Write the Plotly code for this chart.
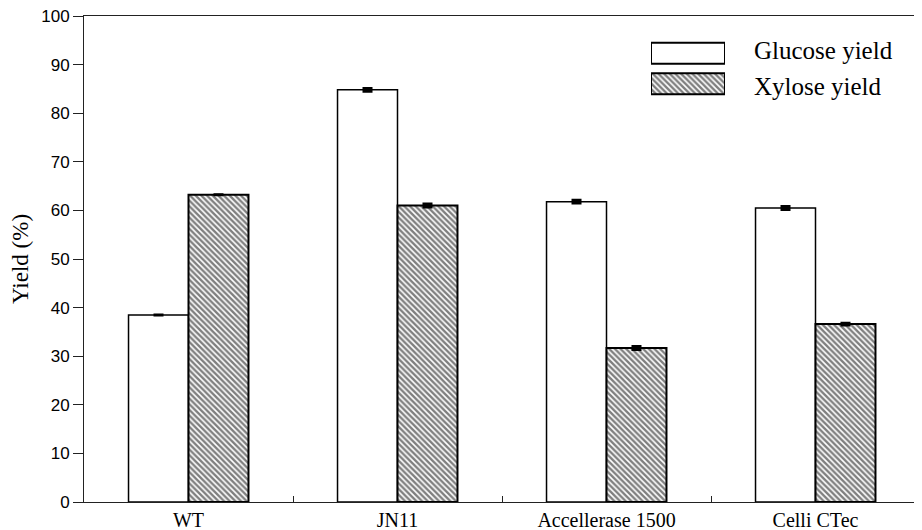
import plotly.graph_objects as go

categories = ["WT", "JN11", "Accellerase 1500", "Celli CTec"]
glucose_yield = [38.5, 84.8, 61.8, 60.5]
xylose_yield = [63.2, 61.0, 31.7, 36.6]
glucose_err = [None, 0.3, 0.3, 0.3]
xylose_err = [None, 0.3, 0.3, 0.2]
series_names = ["Glucose yield", "Xylose yield"]
yticks = list(range(0, 101, 10))

# the page body has an 8px margin; work in screen pixels and shift
OFF = 8
W, H = 922 - OFF, 530 - OFF
serif = "Liberation Serif, Times New Roman, serif"
sans = "Liberation Sans, Arial, sans-serif"

# plot area in screen pixels
px0, px1 = 84, 920
py0, py1 = 16, 502
PW, PH = px1 - px0, py1 - py0


def fx(px):
    return (px - px0) / PW


def fy(py):
    return (py1 - py) / PH


fig = go.Figure()
fig.add_trace(go.Bar(
    x=categories, y=glucose_yield, name=series_names[0],
    marker=dict(color="white", line=dict(color="black", width=1.5)),
    error_y=dict(type="data", array=glucose_err, color="black", thickness=3, width=5),
    showlegend=False,
))
fig.add_trace(go.Bar(
    x=categories, y=xylose_yield, name=series_names[1],
    marker=dict(color="white", line=dict(color="black", width=2),
                pattern=dict(shape="\\", fgcolor="black", bgcolor="white", size=4, solidity=0.6)),
    error_y=dict(type="data", array=xylose_err, color="black", thickness=3, width=5),
    showlegend=False,
))

# legend swatches (drawn on a small helper subplot)
fig.add_trace(go.Bar(
    x=[1, 1], y=[1, 0], orientation="h", width=0.69,
    marker=dict(color="white", line=dict(color="black", width=2),
                pattern=dict(shape=["", "\\"], fgcolor="black", bgcolor="white", size=4, solidity=0.6)),
    xaxis="x2", yaxis="y2", showlegend=False, hoverinfo="skip",
))

fig.update_layout(
    width=W, height=H,
    margin=dict(l=px0 - OFF, r=(922 - px1), t=py0 - OFF, b=(530 - py1), autoexpand=False, pad=0),
    paper_bgcolor="white", plot_bgcolor="white",
    barmode="group", bargap=0.426, bargroupgap=0,
    showlegend=False,
    xaxis=dict(
        showline=True, linecolor="#222", linewidth=1, mirror=True,
        ticks="inside", tickson="boundaries", ticklen=6, tickcolor="#222",
        tickfont=dict(family=serif, size=20, color="black"),
        showgrid=False, zeroline=False, automargin=False, ticklabeloverflow="allow",
    ),
    yaxis=dict(
        range=[0, 100], tickvals=yticks, ticks="outside", ticklen=10, tickcolor="#222",
        showline=True, linecolor="#222", linewidth=1, mirror=True,
        tickfont=dict(family=sans, size=17, color="black"),
        showgrid=False, zeroline=False, automargin=False, ticklabeloverflow="allow",
        title=dict(text="Yield (%)", font=dict(family=serif, size=23, color="black"), standoff=14),
    ),
    xaxis2=dict(domain=[fx(651), fx(725)], range=[0, 1], visible=False, anchor="y2", fixedrange=True),
    yaxis2=dict(domain=[fy(99), fy(38)], range=[-0.5, 1.5], visible=False, anchor="x2", fixedrange=True),
)

label_y = [fy(51), fy(87)]
for name, yy in zip(series_names, label_y):
    fig.add_annotation(
        text=name, xref="paper", yref="paper", x=fx(752), y=yy,
        xanchor="left", yanchor="middle", showarrow=False,
        font=dict(family=serif, size=25, color="black"),
    )

fig.write_html("out.html")
